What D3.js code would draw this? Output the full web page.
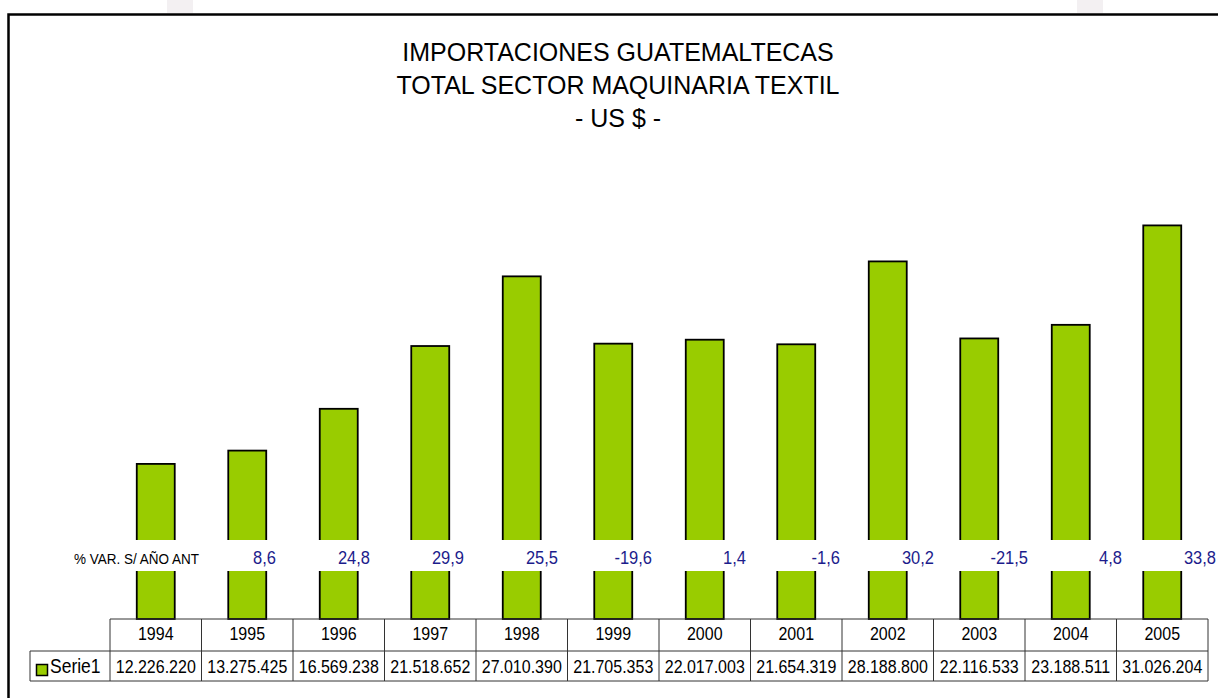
<!DOCTYPE html>
<html>
<head>
<meta charset="UTF-8">
<title>Importaciones guatemaltecas</title>
<script src="https://cdn.jsdelivr.net/npm/d3@7"></script>
<style>
  body { margin: 0; background: #fff; }
  text { font-family: "Liberation Sans", Arial, sans-serif; }
</style>
</head>
<body>
<script>
// data
var years = ["1994","1995","1996","1997","1998","1999","2000","2001","2002","2003","2004","2005"];
var importValues = [12226220, 13275425, 16569238, 21518652, 27010390, 21705353, 22017003, 21654319, 28188800, 22116533, 23188511, 31026204];
var varYears = ["1995","1996","1997","1998","1999","2000","2001","2002","2003","2004","2005"];
var varValues = ["8,6","24,8","29,9","25,5","-19,6","1,4","-1,6","30,2","-21,5","4,8","33,8"];
var titleLines = ["IMPORTACIONES GUATEMALTECAS", "TOTAL SECTOR MAQUINARIA TEXTIL", "- US $ -"];
var seriesName = "Serie1";

var width = 1218, height = 698;
var green = "#99cc00";

var svg = d3.select("body").append("svg")
  .attr("width", width)
  .attr("height", height);

// faint page marks above the frame
svg.selectAll("rect.mark")
  .data([167, 1077])
  .enter().append("rect")
  .attr("x", function(d){ return d; })
  .attr("y", 0)
  .attr("width", 26)
  .attr("height", 13)
  .attr("fill", "#f3f0f2");

// chart frame (runs off the right and bottom)
svg.append("rect")
  .attr("x", 8.5).attr("y", 14.5)
  .attr("width", 1230).attr("height", 700)
  .attr("fill", "#fff")
  .attr("stroke", "#000")
  .attr("stroke-width", 2.5);

// title
svg.append("g").selectAll("text")
  .data(titleLines)
  .enter().append("text")
  .attr("transform", function(d, i){ return "translate(618," + (60.5 + i * 33) + ") scale(1,1.05)"; })
  .attr("text-anchor", "middle")
  .attr("font-size", 25)
  .attr("fill", "#000")
  .text(function(d){ return d; });

// scales
var x = d3.scaleBand().domain(years).range([110, 1208]).paddingInner(0);
var y = d3.scaleLinear().domain([0, 35000000]).range([619, 175]);
var barW = x.bandwidth() * 0.415;

svg.append("g").selectAll("rect")
  .data(importValues)
  .enter().append("rect")
  .attr("x", function(d, i){ return x(years[i]) + (x.bandwidth() - barW) / 2; })
  .attr("y", function(d){ return y(d); })
  .attr("width", barW)
  .attr("height", function(d){ return y(0) - y(d); })
  .attr("fill", green)
  .attr("stroke", "#000")
  .attr("stroke-width", 1.8);

// white band carrying the yearly variation
svg.append("rect")
  .attr("x", 11).attr("y", 540)
  .attr("width", width).attr("height", 31)
  .attr("fill", "#fff");

svg.append("text")
  .attr("transform", "translate(74,563.5) scale(1,1.1)")
  .attr("font-size", 13.5)
  .attr("fill", "#000")
  .text("% VAR. S/ AÑO ANT");

var xv = d3.scalePoint().domain(varYears).range([276, 1216]);
svg.append("g").selectAll("text")
  .data(varValues)
  .enter().append("text")
  .attr("transform", function(d, i){ return "translate(" + xv(varYears[i]) + ",563.5) scale(1,1.1)"; })
  .attr("text-anchor", "end")
  .attr("font-size", 16.5)
  .attr("fill", "#1c1c8c")
  .text(function(d){ return d; });

// data table
var rowTop = 619, rowMid = 651, rowBot = 681, legendLeft = 30;
var fmt = d3.formatLocale({ decimal: ",", thousands: ".", grouping: [3] }).format(",d");
var table = svg.append("g");
var lineColor = "#333";

table.append("line").attr("x1", x.range()[0]).attr("x2", x.range()[1]).attr("y1", rowTop).attr("y2", rowTop)
  .attr("stroke", lineColor);
table.append("line").attr("x1", legendLeft).attr("x2", x.range()[1]).attr("y1", rowMid).attr("y2", rowMid)
  .attr("stroke", lineColor);
table.append("line").attr("x1", legendLeft).attr("x2", x.range()[1]).attr("y1", rowBot).attr("y2", rowBot)
  .attr("stroke", lineColor);
table.append("line").attr("x1", legendLeft).attr("x2", legendLeft).attr("y1", rowMid).attr("y2", rowBot)
  .attr("stroke", lineColor);

var cuts = years.map(function(d){ return x(d); }).concat([x.range()[1]]);
table.selectAll("line.v")
  .data(cuts)
  .enter().append("line")
  .attr("x1", function(d){ return d; })
  .attr("x2", function(d){ return d; })
  .attr("y1", rowTop).attr("y2", rowBot)
  .attr("stroke", lineColor);

table.selectAll("text.yr")
  .data(years)
  .enter().append("text")
  .attr("transform", function(d){ return "translate(" + (x(d) + x.bandwidth() / 2) + ",640) scale(1,1.15)"; })
  .attr("text-anchor", "middle")
  .attr("font-size", 16)
  .attr("fill", "#000")
  .text(function(d){ return d; });

table.selectAll("text.val")
  .data(importValues)
  .enter().append("text")
  .attr("transform", function(d, i){ return "translate(" + (x(years[i]) + x.bandwidth() / 2) + ",673) scale(1,1.15)"; })
  .attr("text-anchor", "middle")
  .attr("font-size", 16)
  .attr("fill", "#000")
  .text(function(d){ return fmt(d); });

// legend key
table.append("rect")
  .attr("x", 36.5).attr("y", 664.5)
  .attr("width", 11).attr("height", 11)
  .attr("fill", green)
  .attr("stroke", "#000")
  .attr("stroke-width", 1.5);
table.append("text")
  .attr("transform", "translate(50,673) scale(1,1.15)")
  .attr("font-size", 17.5)
  .attr("fill", "#000")
  .text(seriesName);
</script>
</body>
</html>
